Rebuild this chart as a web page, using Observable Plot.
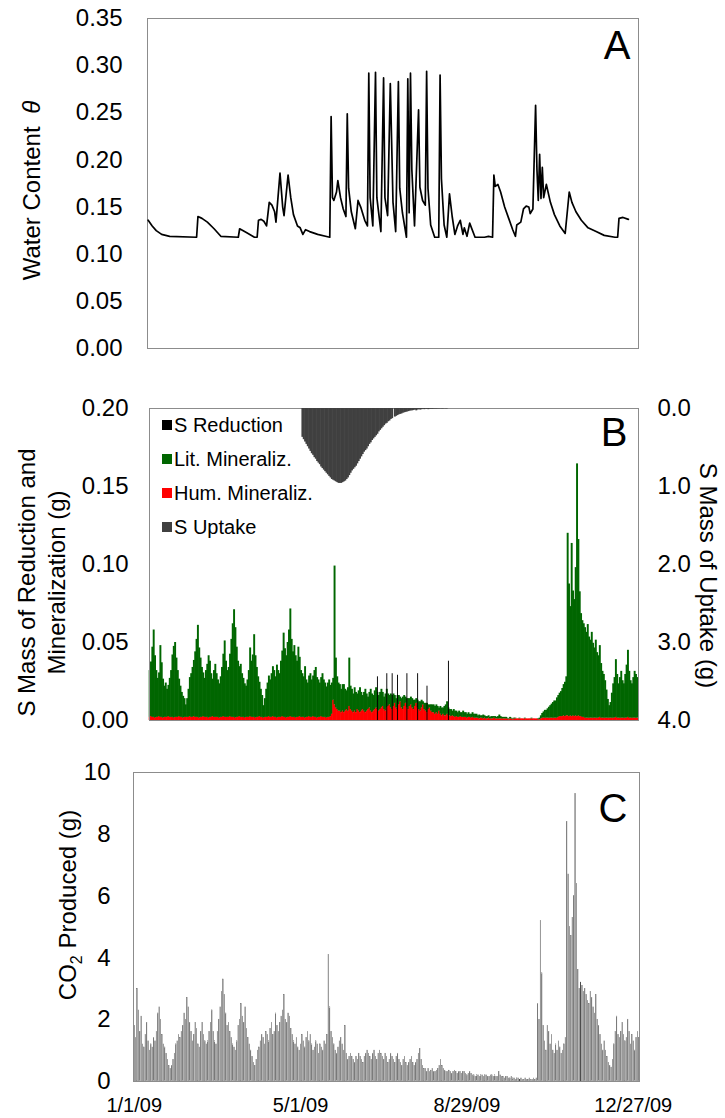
<!DOCTYPE html>
<html>
<head>
<meta charset="utf-8">
<script src="https://cdn.jsdelivr.net/npm/d3@7"></script>
<script src="https://cdn.jsdelivr.net/npm/@observablehq/plot@0.6"></script>
<style>
  html, body { margin: 0; padding: 0; background: #fff; }
  #wrap { position: relative; width: 725px; height: 1118px; overflow: hidden;
          font-family: "Liberation Sans", Arial, Helvetica, sans-serif; }
  #wrap svg { position: absolute; left: 0; }
  #legend { position: absolute; left: 162px; top: 408px; font-size: 20px; color: #000; }
  #legend .row { display: flex; align-items: center; height: 34px; white-space: nowrap; }
  #legend .sw { display: inline-block; width: 10px; height: 10px; margin-right: 2px; }
</style>
</head>
<body>
<div id="wrap"></div>
<script>
// ---------------- DATA ----------------
// Panel A: soil water content (day of year 2009, value)
const waterDays = [0,3,6,10,16,36,37,40,44,49,54,67,68,73,79,81,82,84,86,88,90,92,94,95,98,100,101,104,106,108,111,113,115,117,120,126,135,136,137,138,140,141,143,145,147,148,149,151,154,156,158,161,163,164,165,167,169,170,173,175,176,178,180,182,184,186,187,189,192,193,194,195,196,198,201,202,204,206,207,208,210,213,216,217,218,220,222,224,226,228,230,232,234,235,237,239,243,250,253,256,257,258,260,262,265,268,271,273,274,277,279,281,283,284,286,288,289,290,291,292,293,294,296,299,302,306,310,313,315,318,322,327,333,339,347,349,350,353,357];
const waterValues = [0.136,0.130,0.125,0.121,0.119,0.118,0.140,0.138,0.134,0.127,0.119,0.118,0.127,0.123,0.118,0.118,0.136,0.137,0.135,0.130,0.155,0.152,0.145,0.134,0.186,0.150,0.141,0.184,0.160,0.142,0.130,0.128,0.121,0.126,0.124,0.121,0.118,0.246,0.160,0.157,0.166,0.178,0.160,0.148,0.140,0.249,0.170,0.145,0.127,0.157,0.150,0.136,0.130,0.292,0.160,0.130,0.293,0.160,0.124,0.287,0.160,0.141,0.281,0.155,0.124,0.283,0.170,0.144,0.118,0.286,0.144,0.292,0.190,0.130,0.253,0.171,0.157,0.152,0.294,0.170,0.131,0.118,0.118,0.290,0.180,0.131,0.118,0.164,0.140,0.121,0.130,0.136,0.121,0.128,0.119,0.133,0.118,0.118,0.119,0.118,0.184,0.172,0.174,0.166,0.150,0.138,0.126,0.119,0.131,0.134,0.148,0.151,0.150,0.143,0.148,0.258,0.190,0.157,0.206,0.159,0.192,0.160,0.174,0.155,0.142,0.130,0.122,0.166,0.155,0.145,0.136,0.128,0.124,0.120,0.118,0.118,0.138,0.139,0.137];
const waterTicks = [0, 0.05, 0.10, 0.15, 0.20, 0.25, 0.30, 0.35];

// Panel B: daily S masses (g), one value per day from 1 Jan 2009
const litMin = [
  // Jan
  0.030,0.035,0.045,0.056,0.040,0.030,0.025,0.028,0.046,0.035,0.025,0.020,0.022,0.018,0.020,0.025,0.030,0.040,0.046,0.048,0.038,0.030,0.024,0.020,0.016,0.014,0.012,0.008,0.012,0.018,0.025,
  // Feb
  0.028,0.032,0.036,0.042,0.050,0.059,0.045,0.038,0.032,0.028,0.025,0.030,0.034,0.040,0.036,0.028,0.024,0.030,0.034,0.028,0.024,0.022,0.026,0.032,0.040,0.049,0.036,0.030,
  // Mar
  0.032,0.040,0.050,0.060,0.069,0.058,0.045,0.036,0.032,0.034,0.028,0.025,0.022,0.020,0.024,0.030,0.044,0.036,0.040,0.053,0.040,0.032,0.026,0.022,0.018,0.014,0.008,0.012,0.018,0.022,0.026,
  // Apr
  0.024,0.028,0.032,0.030,0.026,0.034,0.030,0.028,0.036,0.042,0.054,0.044,0.040,0.048,0.056,0.069,0.050,0.042,0.046,0.040,0.036,0.045,0.038,0.030,0.028,0.026,0.033,0.024,0.022,0.026,
  // May
  0.028,0.024,0.026,0.030,0.032,0.026,0.024,0.022,0.025,0.028,0.024,0.022,0.020,0.022,0.024,0.020,0.020,0.014,0.089,0.032,0.021,0.018,0.017,0.015,0.017,0.018,0.014,0.012,0.015,0.031,0.015,
  // Jun
  0.014,0.012,0.015,0.013,0.010,0.013,0.016,0.012,0.009,0.012,0.015,0.011,0.008,0.010,0.014,0.012,0.010,0.012,0.013,0.011,0.010,0.011,0.012,0.009,0.008,0.011,0.012,0.008,0.006,0.009,
  // Jul
  0.009,0.008,0.005,0.006,0.009,0.006,0.003,0.006,0.008,0.007,0.004,0.006,0.007,0.005,0.005,0.006,0.006,0.004,0.003,0.005,0.005,0.006,0.005,0.002,0.004,0.005,0.006,0.003,0.002,0.004,0.005,
  // Aug
  0.005,0.005,0.005,0.005,0.002,0.005,0.005,0.004,0.006,0.007,0.008,0.005,0.004,0.0045,0.003,0.0045,0.004,0.0035,0.003,0.004,0.0025,0.003,0.004,0.003,0.003,0.0025,0.003,0.002,0.0025,0.003,0.0025,
  // Sep
  0.0025,0.0025,0.0015,0.0025,0.0015,0.0015,0.0025,0.0015,0.0015,0.0015,0.0015,0.001,0.0015,0.0015,0.001,0.0015,0.001,0.0015,0.0025,0.0015,0.001,0.001,0.001,0.001,0.0005,0.0005,0.001,0.0005,0.0005,0.0005,
  // Oct
  0.0005,0,0,0.0005,0,0,0,0.0005,0,0,0,0,0.0005,0,0,0,0,0.0005,0.001,0.002,0.003,0.004,0.005,0.005,0.006,0.007,0.008,0.009,0.010,0.011,0.011,
  // Nov
  0.013,0.014,0.015,0.016,0.018,0.020,0.022,0.025,0.117,0.085,0.070,0.111,0.080,0.075,0.095,0.162,0.113,0.080,0.066,0.062,0.060,0.058,0.055,0.060,0.052,0.050,0.055,0.048,0.045,0.050,
  // Dec
  0.042,0.040,0.046,0.035,0.030,0.028,0.024,0.018,0.012,0.008,0.010,0.016,0.022,0.026,0.037,0.028,0.022,0.026,0.030,0.024,0.022,0.028,0.034,0.043,0.030,0.024,0.022,0.026,0.030,0.028,0.026
];
const humMin = [
  // Jan
  0.002,0.0025,0.002,0.002,0.0015,0.002,0.002,0.0025,0.002,0.002,0.0015,0.002,0.002,0.002,0.0025,0.002,0.002,0.002,0.0015,0.002,0.002,0.002,0.0025,0.002,0.002,0.0015,0.002,0.002,0.002,0.002,0.0025,
  // Feb
  0.002,0.002,0.0025,0.002,0.002,0.002,0.0015,0.002,0.002,0.0025,0.002,0.002,0.002,0.0015,0.002,0.002,0.0025,0.002,0.002,0.002,0.002,0.0015,0.002,0.002,0.0025,0.002,0.002,0.002,
  // Mar
  0.002,0.0025,0.002,0.002,0.002,0.0015,0.002,0.002,0.0025,0.002,0.002,0.002,0.0015,0.002,0.002,0.002,0.0025,0.002,0.002,0.002,0.0015,0.002,0.002,0.0025,0.002,0.002,0.0015,0.002,0.002,0.002,0.0025,
  // Apr
  0.002,0.002,0.0025,0.002,0.002,0.0015,0.002,0.002,0.002,0.0025,0.002,0.002,0.0015,0.002,0.002,0.0025,0.002,0.002,0.002,0.0015,0.002,0.002,0.0025,0.002,0.002,0.002,0.0015,0.002,0.002,0.0025,
  // May
  0.002,0.002,0.0025,0.002,0.002,0.0015,0.002,0.002,0.0025,0.002,0.002,0.002,0.0015,0.002,0.002,0.0025,0.004,0.013,0.010,0.008,0.007,0.006,0.006,0.005,0.006,0.005,0.006,0.007,0.006,0.009,0.007,
  // Jun
  0.006,0.005,0.006,0.005,0.007,0.006,0.005,0.006,0.007,0.006,0.005,0.006,0.007,0.008,0.006,0.005,0.006,0.007,0.008,0.007,0.006,0.007,0.008,0.009,0.007,0.006,0.008,0.009,0.010,0.008,
  // Jul
  0.007,0.009,0.011,0.008,0.007,0.010,0.012,0.008,0.007,0.009,0.011,0.008,0.007,0.009,0.010,0.008,0.007,0.009,0.011,0.008,0.007,0.006,0.008,0.010,0.007,0.006,0.005,0.007,0.008,0.006,0.005,
  // Aug
  0.005,0.004,0.005,0.004,0.006,0.004,0.003,0.004,0.003,0.003,0.004,0.003,0.003,0.0025,0.003,0.0025,0.002,0.0025,0.002,0.002,0.0025,0.002,0.002,0.002,0.002,0.0015,0.002,0.002,0.0015,0.002,0.0015,
  // Sep
  0.0015,0.0015,0.0015,0.001,0.0015,0.0015,0.001,0.0015,0.001,0.001,0.0015,0.001,0.001,0.001,0.0015,0.001,0.001,0.001,0.001,0.001,0.001,0.001,0.001,0.001,0.001,0.0005,0.001,0.001,0.0005,0.001,
  // Oct
  0.001,0.001,0.001,0.001,0.001,0.001,0.001,0.001,0.001,0.001,0.001,0.001,0.001,0.001,0.001,0.001,0.001,0.0005,0.0005,0.001,0.0015,0.0015,0.0015,0.0015,0.0015,0.0015,0.0015,0.0015,0.0015,0.0015,0.0015,
  // Nov
  0.0015,0.002,0.0025,0.0025,0.0025,0.003,0.0025,0.003,0.003,0.0025,0.003,0.0025,0.003,0.0025,0.003,0.0025,0.003,0.0025,0.0025,0.002,0.002,0.0015,0.0015,0.0015,0.0015,0.0015,0.0015,0.0015,0.0015,0.0015,
  // Dec
  0.0015,0.0015,0.002,0.0015,0.0015,0.0015,0.0015,0.0015,0.0015,0.0015,0.0015,0.0015,0.0015,0.0015,0.002,0.0015,0.0015,0.0015,0.0015,0.0015,0.0015,0.0015,0.0015,0.002,0.0015,0.0015,0.0015,0.0015,0.0015,0.0015,0.0015
];
// S reduction: sparse spikes (day of year, g)
const sReductionDays = [170, 177, 181, 185, 192, 200, 207, 223];
const sReductionValues = [0.028, 0.030, 0.030, 0.029, 0.030, 0.030, 0.022, 0.038];
// S uptake (g, right axis), daily from day 114
const uptakeStartDay = 114;
const uptakeValues = [
  0.37,0.40,0.43,0.46,0.49,0.52,0.55,0.58,0.60,0.63,
  0.65,0.68,0.70,0.72,0.75,0.77,0.79,0.81,0.83,0.85,
  0.87,0.89,0.91,0.92,0.93,0.94,0.95,0.96,0.96,0.96,
  0.95,0.94,0.93,0.91,0.89,0.86,0.83,0.80,0.78,0.76,
  0.74,0.71,0.68,0.65,0.62,0.59,0.56,0.54,0.52,0.49,
  0.46,0.44,0.41,0.39,0.37,0.35,0.33,0.30,0.28,0.26,
  0.24,0.22,0.20,0.19,0.17,0.16,0.14,0.13,
  0,
  0.11,0.10,0.09,0.08,0.075,0.07,0.06,0.055,0.05,0.045,
  0.04,0.035,0.03,0.03,0.025,0.02,0.03,0.02,0.015,0.02,
  0.015,0.01,0.015,0.01,0.01,0.015,0.01,0.008,0.01,0.008,
  0.006,0.008,0.006,0.005,0.005,0.006,0.005,0.004,0.005,0.004
];
const massTicks = [0, 0.05, 0.10, 0.15, 0.20];
const uptakeTicks = [0, 1, 2, 3, 4];
const legendLabels = ["S Reduction", "Lit. Mineraliz.", "Hum. Mineraliz.", "S Uptake"];
const legendColors = ["#000000", "#006600", "#ff0000", "#404040"];

// Panel C: daily CO2 produced (g)
const co2 = [
  // Jan
  1.8,1.4,3.0,2.3,1.6,2.1,1.2,1.1,1.5,1.9,1.3,1.0,1.2,1.1,1.4,1.3,1.6,2.2,2.4,2.0,1.5,1.2,1.1,0.9,0.7,0.5,0.4,0.5,0.7,0.9,1.2,
  // Feb
  1.3,1.5,1.4,1.6,1.8,2.2,2.0,2.7,2.4,1.9,1.6,1.3,1.5,1.9,1.7,1.2,1.1,1.6,1.9,1.5,1.3,1.2,1.3,1.6,1.9,2.3,1.6,1.3,
  // Mar
  1.2,1.6,2.0,2.4,2.9,3.3,2.8,2.2,1.8,1.9,1.6,1.4,1.2,1.1,1.0,1.3,1.8,2.0,2.5,2.1,1.9,2.4,1.7,1.4,1.2,1.0,0.8,0.6,0.5,0.7,1.0,
  // Apr
  1.1,1.3,1.5,1.4,1.2,1.6,1.5,1.3,1.7,1.9,1.5,1.6,2.2,1.8,1.6,1.9,2.1,2.3,2.8,2.0,1.9,2.2,2.1,1.7,1.5,1.3,1.2,1.4,1.1,1.0,
  // May
  1.2,1.5,1.3,1.1,1.4,1.6,1.3,1.5,1.2,1.0,1.1,1.3,1.2,0.9,1.2,1.1,1.0,1.3,1.2,1.5,4.1,2.4,1.6,1.4,1.2,1.0,0.9,1.1,1.3,1.4,1.2,
  // Jun
  1.0,1.8,0.9,0.7,0.8,0.9,0.8,0.7,0.6,0.8,0.7,0.9,0.8,0.7,0.6,0.8,0.9,1.0,0.9,0.8,0.7,0.9,1.0,0.8,0.7,0.9,1.0,0.9,0.8,0.7,
  // Jul
  0.9,0.8,0.6,0.7,0.9,0.8,0.7,0.6,0.8,0.9,0.7,0.6,0.5,0.7,0.8,0.6,0.5,0.6,0.7,0.8,0.6,0.5,0.6,0.7,0.9,1.05,0.7,0.5,0.4,0.4,0.3,
  // Aug
  0.4,0.3,0.35,0.4,0.3,0.3,0.35,0.4,0.5,0.7,0.5,0.4,0.35,0.3,0.3,0.35,0.3,0.25,0.3,0.35,0.3,0.25,0.3,0.3,0.25,0.3,0.3,0.25,0.2,0.25,0.3,
  // Sep
  0.25,0.2,0.2,0.15,0.2,0.2,0.15,0.2,0.2,0.15,0.2,0.2,0.15,0.15,0.2,0.2,0.15,0.2,0.15,0.15,0.3,0.2,0.15,0.15,0.1,0.15,0.15,0.1,0.1,0.15,
  // Oct
  0.1,0.1,0.05,0.1,0.1,0.05,0.1,0.05,0.05,0.1,0.05,0.05,0.1,0.05,0.05,0.1,0.05,0.1,2.5,2.0,5.2,3.5,1.8,1.3,1.0,1.8,1.6,1.2,1.5,1.0,0.9,
  // Nov
  1.2,1.0,1.3,1.1,0.9,1.0,1.2,1.4,8.4,6.7,5.0,4.7,5.3,6.0,9.3,6.4,3.6,3.0,3.2,3.1,2.9,3.0,2.8,2.6,2.5,2.9,2.7,2.4,2.2,2.8,
  // Dec
  2.0,1.8,1.5,1.2,1.0,1.3,1.0,0.8,0.6,0.5,0.45,0.7,1.2,1.6,2.1,1.5,1.4,1.6,1.9,1.5,1.3,1.4,2.0,1.6,1.2,1.5,1.3,1.0,1.4,1.6,1.4
];
const co2Ticks = [0, 2, 4, 6, 8, 10];
const dateTickLabels = ["2009-01-01", "2009-05-01", "2009-08-29", "2009-12-27"];

// ---------------- BUILD ----------------
const FONT = '"Liberation Sans", Arial, Helvetica, sans-serif';
const DAY = 864e5;
const T0 = Date.UTC(2009, 0, 1);
const dayDate = d => new Date(T0 + d * DAY);
const xDomain = [dayDate(0), dayDate(365)];
const baseStyle = {fontFamily: FONT, fontSize: "24px", background: "transparent", color: "#000", overflow: "visible"};
const FRAME = "#8c8c8c";
const HUM = legendLabels[2], LIT = legendLabels[1], SRED = legendLabels[0];
const NS = "http://www.w3.org/2000/svg";
const OVER = -0.3; // slight widening so adjacent daily bars merge without seams

const wrap = document.getElementById("wrap");
function place(svg, top) { svg.style.top = top + "px"; wrap.appendChild(svg); }

// ---- Panel A
const waterRows = waterDays.map((d, i) => ({date: new Date(T0 + (d + 0.5) * DAY), value: waterValues[i]}));
const plotA = Plot.plot({
  width: 725, height: 370, marginTop: 18, marginBottom: 22, marginLeft: 147, marginRight: 87,
  style: baseStyle,
  x: {type: "utc", domain: xDomain, axis: null},
  y: {domain: [0, 0.35], axis: null},
  marks: [
    Plot.frame({stroke: FRAME}),
    Plot.axisY({ticks: waterTicks, tickFormat: d3.format(".2f"), tickSize: 0, tickPadding: 25, label: null, fontSize: 24}),
    Plot.line(waterRows, {x: "date", y: "value", stroke: "#000", strokeWidth: 1.7, strokeLinejoin: "round"}),
    Plot.text(["A"], {text: d => d, frameAnchor: "top-right", dx: -8, dy: 12, lineAnchor: "top", textAnchor: "end", fontSize: 40}),
    Plot.text(["Water Content θ"], {text: d => d, frameAnchor: "left", dx: -115, dy: 7, rotate: -90, textAnchor: "middle", lineAnchor: "middle", fontSize: 24})
  ]
});
plotA.querySelectorAll("text").forEach(t => {
  if (t.textContent === "Water Content θ") {
    t.textContent = "Water Content ";
    const ts = document.createElementNS(NS, "tspan");
    ts.setAttribute("font-style", "italic");
    ts.setAttribute("dx", "6");
    ts.textContent = "θ";
    t.appendChild(ts);
  }
});
place(plotA, 0);

// ---- Panel B (left axis: reduction & mineralization)
const bRows = [];
for (let d = 0; d < 365; d++) {
  bRows.push({date: dayDate(d), type: HUM, value: humMin[d]});
  bRows.push({date: dayDate(d), type: LIT, value: litMin[d]});
}
const sRows = sReductionDays.map((d, i) => ({date: dayDate(d), type: SRED, value: sReductionValues[i]}));
const plotB = Plot.plot({
  width: 725, height: 360, marginTop: 28, marginBottom: 20, marginLeft: 149, marginRight: 87,
  style: baseStyle,
  x: {type: "utc", domain: xDomain, axis: null},
  y: {domain: [0, 0.2], axis: null},
  color: {domain: [SRED, LIT, HUM], range: [legendColors[0], legendColors[1], legendColors[2]]},
  marks: [
    Plot.rectY(bRows, {x: "date", interval: d3.utcDay, y: "value", fill: "type", order: [HUM, LIT], insetLeft: OVER, insetRight: OVER}),
    Plot.rectY(sRows, {x: "date", interval: d3.utcDay, y: "value", fill: "type", insetLeft: 0.2, insetRight: 0.2}),
    Plot.frame({stroke: FRAME}),
    Plot.axisY({ticks: massTicks, tickFormat: d3.format(".2f"), tickSize: 0, tickPadding: 21, label: null, fontSize: 24}),
    Plot.text(["S Mass of Reduction and\nMineralization (g)"], {text: d => d, frameAnchor: "left", dx: -109, dy: 18, rotate: -90, textAnchor: "middle", lineAnchor: "middle", lineHeight: 1.25, fontSize: 24})
  ]
});
place(plotB, 380);

// ---- Panel B overlay (right axis: uptake, reversed)
const uptakeRows = uptakeValues.map((v, i) => ({date: dayDate(uptakeStartDay + i), value: v}));
const plotB2 = Plot.plot({
  width: 725, height: 360, marginTop: 28, marginBottom: 20, marginLeft: 149, marginRight: 87,
  style: baseStyle,
  x: {type: "utc", domain: xDomain, axis: null},
  y: {domain: [0, 4], reverse: true, axis: null},
  marks: [
    Plot.rectY(uptakeRows, {x: "date", interval: d3.utcDay, y: "value", fill: legendColors[3], insetLeft: OVER, insetRight: OVER}),
    Plot.axisY({anchor: "right", ticks: uptakeTicks, tickFormat: d3.format(".1f"), tickSize: 0, tickPadding: 19, label: null, fontSize: 24}),
    Plot.text(["S Mass of Uptake (g)"], {text: d => d, frameAnchor: "right", dx: 69, dy: 11, rotate: 90, textAnchor: "middle", lineAnchor: "middle", fontSize: 24}),
    Plot.text(["B"], {text: d => d, frameAnchor: "top-right", dx: -11, dy: 9, lineAnchor: "top", textAnchor: "end", fontSize: 40})
  ]
});
place(plotB2, 380);

// Legend (inside panel B, upper left)
const legend = document.createElement("div");
legend.id = "legend";
legendLabels.forEach((lab, i) => {
  const row = document.createElement("div");
  row.className = "row";
  const sw = document.createElement("span");
  sw.className = "sw";
  sw.style.background = legendColors[i];
  row.appendChild(sw);
  row.appendChild(document.createTextNode(lab));
  legend.appendChild(row);
});
wrap.appendChild(legend);

// ---- Panel C
const co2Rows = co2.map((v, i) => ({date: dayDate(i), value: v}));
const dateTicks = dateTickLabels.map(s => new Date(Date.parse(s + "T12:00:00Z")));
const plotC = Plot.plot({
  width: 725, height: 368, marginTop: 22, marginBottom: 37, marginLeft: 133, marginRight: 86,
  style: baseStyle,
  x: {type: "utc", domain: xDomain},
  y: {domain: [0, 10], axis: null},
  marks: [
    Plot.rectY(co2Rows, {x: "date", interval: d3.utcDay, y: "value", fill: "#a3a3a3", stroke: "#4d4d4d", strokeWidth: 0.45}),
    Plot.frame({stroke: FRAME}),
    Plot.axisY({ticks: co2Ticks, tickSize: 0, tickPadding: 23, label: null, fontSize: 24}),
    Plot.axisX({ticks: dateTicks, tickFormat: d3.utcFormat("%-m/%-d/%y"), tickSize: 0, tickPadding: 16, label: null, fontSize: 20}),
    Plot.text(["CO2 Produced (g)"], {text: d => d, frameAnchor: "left", dx: -65, dy: -22, rotate: -90, textAnchor: "middle", lineAnchor: "middle", fontSize: 24}),
    Plot.text(["C"], {text: d => d, frameAnchor: "top-right", dx: -12, dy: 21, lineAnchor: "top", textAnchor: "end", fontSize: 40})
  ]
});
plotC.querySelectorAll("text").forEach(t => {
  if (t.textContent === "CO2 Produced (g)") {
    t.textContent = "CO";
    const sub = document.createElementNS(NS, "tspan");
    sub.setAttribute("font-size", "16");
    sub.setAttribute("dy", "6");
    sub.textContent = "2";
    const rest = document.createElementNS(NS, "tspan");
    rest.setAttribute("dy", "-6");
    rest.textContent = " Produced (g)";
    t.appendChild(sub);
    t.appendChild(rest);
  }
});
place(plotC, 750);
</script>
</body>
</html>
